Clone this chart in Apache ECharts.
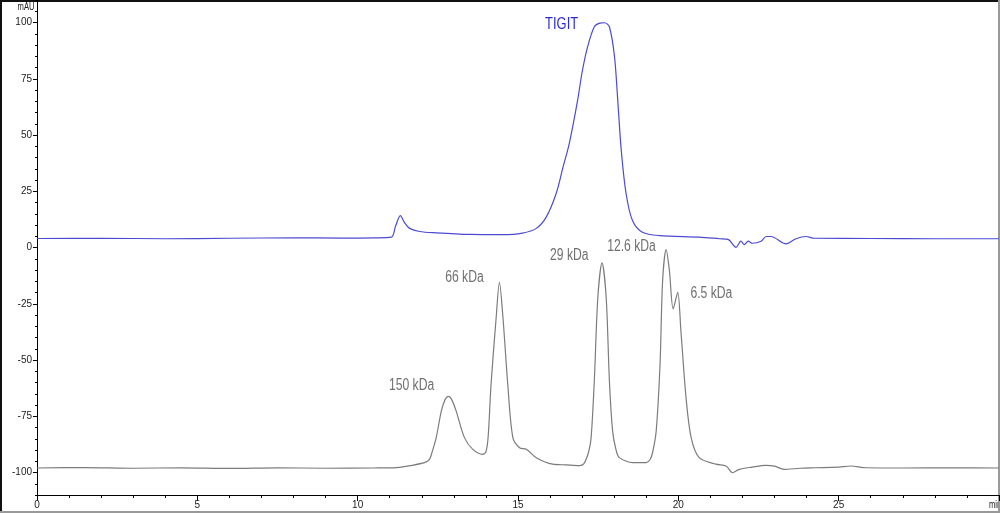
<!DOCTYPE html>
<html>
<head>
<meta charset="utf-8">
<script src="https://cdn.jsdelivr.net/npm/echarts@6/dist/echarts.min.js"></script>
<style>
  html, body { margin: 0; padding: 0; background: #fff; }
  #chart { width: 1000px; height: 513px; }
</style>
</head>
<body>
<div id="chart"></div>
<script>
// retention time (min) vs absorbance (mAU)
var tigitTrace = [
  [0, 4.0], [2, 4.1], [4, 3.9], [6, 4.1], [8, 4.3], [9.5, 4.2], [10.5, 4.3],
  [11.05, 4.6], [11.18, 9.4], [11.33, 14.2], [11.46, 11.1], [11.62, 8.5],
  [11.93, 7.1], [12.45, 6.5], [13.49, 5.8], [14.52, 5.7], [15.14, 6.4],
  [15.57, 8.5], [15.88, 13.5], [16.19, 24.0], [16.40, 35.5], [16.60, 46.3],
  [16.86, 65.5], [17.00, 78.0], [17.17, 89.2], [17.38, 98.1], [17.55, 99.7],
  [17.70, 99.9], [17.85, 98.1], [18.01, 84.8], [18.11, 65.5], [18.22, 43.2],
  [18.37, 24.0], [18.57, 12.0], [18.88, 6.8], [19.41, 5.3], [20.65, 4.6],
  [21.28, 3.9], [21.55, 3.6], [21.80, 0.1], [21.95, 2.8], [22.06, 1.3],
  [22.18, 2.8], [22.31, 1.9], [22.58, 2.8], [22.74, 4.9], [22.89, 4.9],
  [23.36, 1.6], [23.67, 3.9], [23.98, 4.9], [24.24, 4.1], [26, 4.0],
  [28, 3.9], [30, 3.9]
];

var standardTrace = [
  [0, -98.0], [1.5, -97.8], [3, -98.1], [4.5, -97.9], [6, -98.2], [7.5, -97.9],
  [9, -98.1], [10.5, -98.0], [11.21, -97.8], [11.7, -96.8], [12.1, -95.5],
  [12.24, -94.2], [12.33, -90.5], [12.45, -84.5], [12.61, -72.6], [12.73, -67.5],
  [12.83, -66.2], [12.93, -67.5], [13.07, -72.6], [13.33, -84.5], [13.59, -89.7],
  [13.90, -91.9], [14.0, -90.8], [14.07, -84.0], [14.16, -60.7], [14.32, -31.0],
  [14.42, -15.5], [14.53, -31.0], [14.68, -60.7], [14.84, -84.5], [15.05, -89.0],
  [15.26, -89.7], [15.57, -93.4], [16.08, -96.3], [16.5, -96.6], [16.92, -96.9],
  [17.05, -96.2], [17.20, -91.0], [17.28, -84.5], [17.38, -59.2], [17.49, -22.1],
  [17.62, -6.8], [17.75, -22.1], [17.85, -59.2], [17.95, -81.5], [18.05, -89.5],
  [18.16, -93.4], [18.58, -95.6], [19.0, -95.6], [19.12, -94.2], [19.20, -91.0],
  [19.31, -81.5], [19.43, -51.8], [19.51, -14.7], [19.62, -0.9], [19.72, -10.0],
  [19.84, -27.3], [19.98, -19.9], [20.08, -37.0], [20.24, -66.7], [20.40, -84.5],
  [20.65, -93.4], [21.17, -96.3], [21.49, -97.1], [21.69, -100.1], [21.90, -98.6],
  [22.3, -97.6], [22.73, -96.8], [23.0, -97.2], [23.30, -98.6], [23.8, -98.1],
  [24.29, -97.9], [25.0, -97.6], [25.38, -97.1], [25.85, -97.9], [27, -98.0],
  [28.5, -97.9], [30, -98.0]
];

// annotation text and where it sits (data coords)
var tigitLabels = [
  ['TIGIT', 16.36, 99.3]
];
var standardLabels = [
  ['150 kDa', 11.68, -61.5],
  ['66 kDa', 13.33, -13.4],
  ['29 kDa', 16.60, -3.6],
  ['12.6 kDa', 18.54, 0.4],
  ['6.5 kDa', 21.03, -20.5]
];

var yMajorTicks = [-100, -75, -50, -25, 0, 25, 50, 75, 100];
var yMinorTicks = [];
for (var v = -110; v <= 110; v += 5) yMinorTicks.push(v);

var font = "'Liberation Sans', Arial, sans-serif";

var myChart = echarts.init(document.getElementById('chart'));
var options = {
  animation: false,
  backgroundColor: '#fff',
  grid: { left: 37, right: 1, top: 0, bottom: 18 },
  xAxis: {
    type: 'value',
    min: 0,
    max: 30,
    interval: 5,
    axisLine: { show: true, onZero: false, lineStyle: { color: '#000', width: 1 } },
    axisTick: { show: true, length: 6, lineStyle: { color: '#000' } },
    minorTick: { show: true, splitNumber: 5, length: 3, lineStyle: { color: '#000' } },
    axisLabel: { color: '#222', fontSize: 10, fontFamily: font, margin: 5,
      showMaxLabel: false },
    splitLine: { show: false }
  },
  yAxis: [
    {
      type: 'value',
      min: -110,
      max: 110,
      axisLine: { show: true, onZero: false, lineStyle: { color: '#000', width: 1 } },
      axisTick: { show: true, length: 4, customValues: yMajorTicks, lineStyle: { color: '#000' } },
      axisLabel: { color: '#222', fontSize: 10, fontFamily: font, margin: 5,
        customValues: yMajorTicks },
      splitLine: { show: false }
    },
    {
      type: 'value',
      min: -110,
      max: 110,
      position: 'left',
      axisLine: { show: false, onZero: false },
      axisTick: { show: true, length: 2, customValues: yMinorTicks, lineStyle: { color: '#000' } },
      axisLabel: { show: false },
      splitLine: { show: false }
    }
  ],
  series: [
    {
      name: 'TIGIT',
      type: 'line',
      data: tigitTrace,
      symbol: 'none',
      smooth: 0.3,
      lineStyle: { color: '#4b4bd2', width: 1.2 }
    },
    {
      name: 'Standards',
      type: 'line',
      data: standardTrace,
      symbol: 'none',
      smooth: 0.3,
      lineStyle: { color: '#7c7c7c', width: 1.2 }
    }
  ]
};
myChart.setOption(options);

// narrow annotation text, placed through the grid's own scales
function narrowText(text, px, py, size, color) {
  return {
    type: 'text', x: px, y: py, scaleX: 0.76, silent: true,
    style: { text: text, fontSize: size, fontFamily: font, fill: color,
      align: 'center', verticalAlign: 'middle' }
  };
}
var graphics = [];
tigitLabels.forEach(function (d) {
  var p = myChart.convertToPixel({ gridIndex: 0 }, [d[1], d[2]]);
  graphics.push(narrowText(d[0], p[0], p[1], 17, '#2a2ad8'));
});
standardLabels.forEach(function (d) {
  var p = myChart.convertToPixel({ gridIndex: 0 }, [d[1], d[2]]);
  graphics.push(narrowText(d[0], p[0], p[1], 16, '#707070'));
});
graphics.push(narrowText('mAU', 26, 7, 10, '#222'));
graphics.push(narrowText('min', 995, 505, 10, '#222'));
graphics.push(
  { type: 'rect', shape: { x: 0, y: 0, width: 1000, height: 2 }, style: { fill: '#111' } },
  { type: 'rect', shape: { x: 0, y: 0, width: 2, height: 513 }, style: { fill: '#111' } },
  { type: 'rect', shape: { x: 998, y: 0, width: 2, height: 513 }, style: { fill: '#999' } },
  { type: 'rect', shape: { x: 0, y: 511, width: 1000, height: 2 }, style: { fill: '#999' } }
);
myChart.setOption({ graphic: graphics });

window.addEventListener('resize', function () {
  myChart.resize();
});
</script>
</body>
</html>
